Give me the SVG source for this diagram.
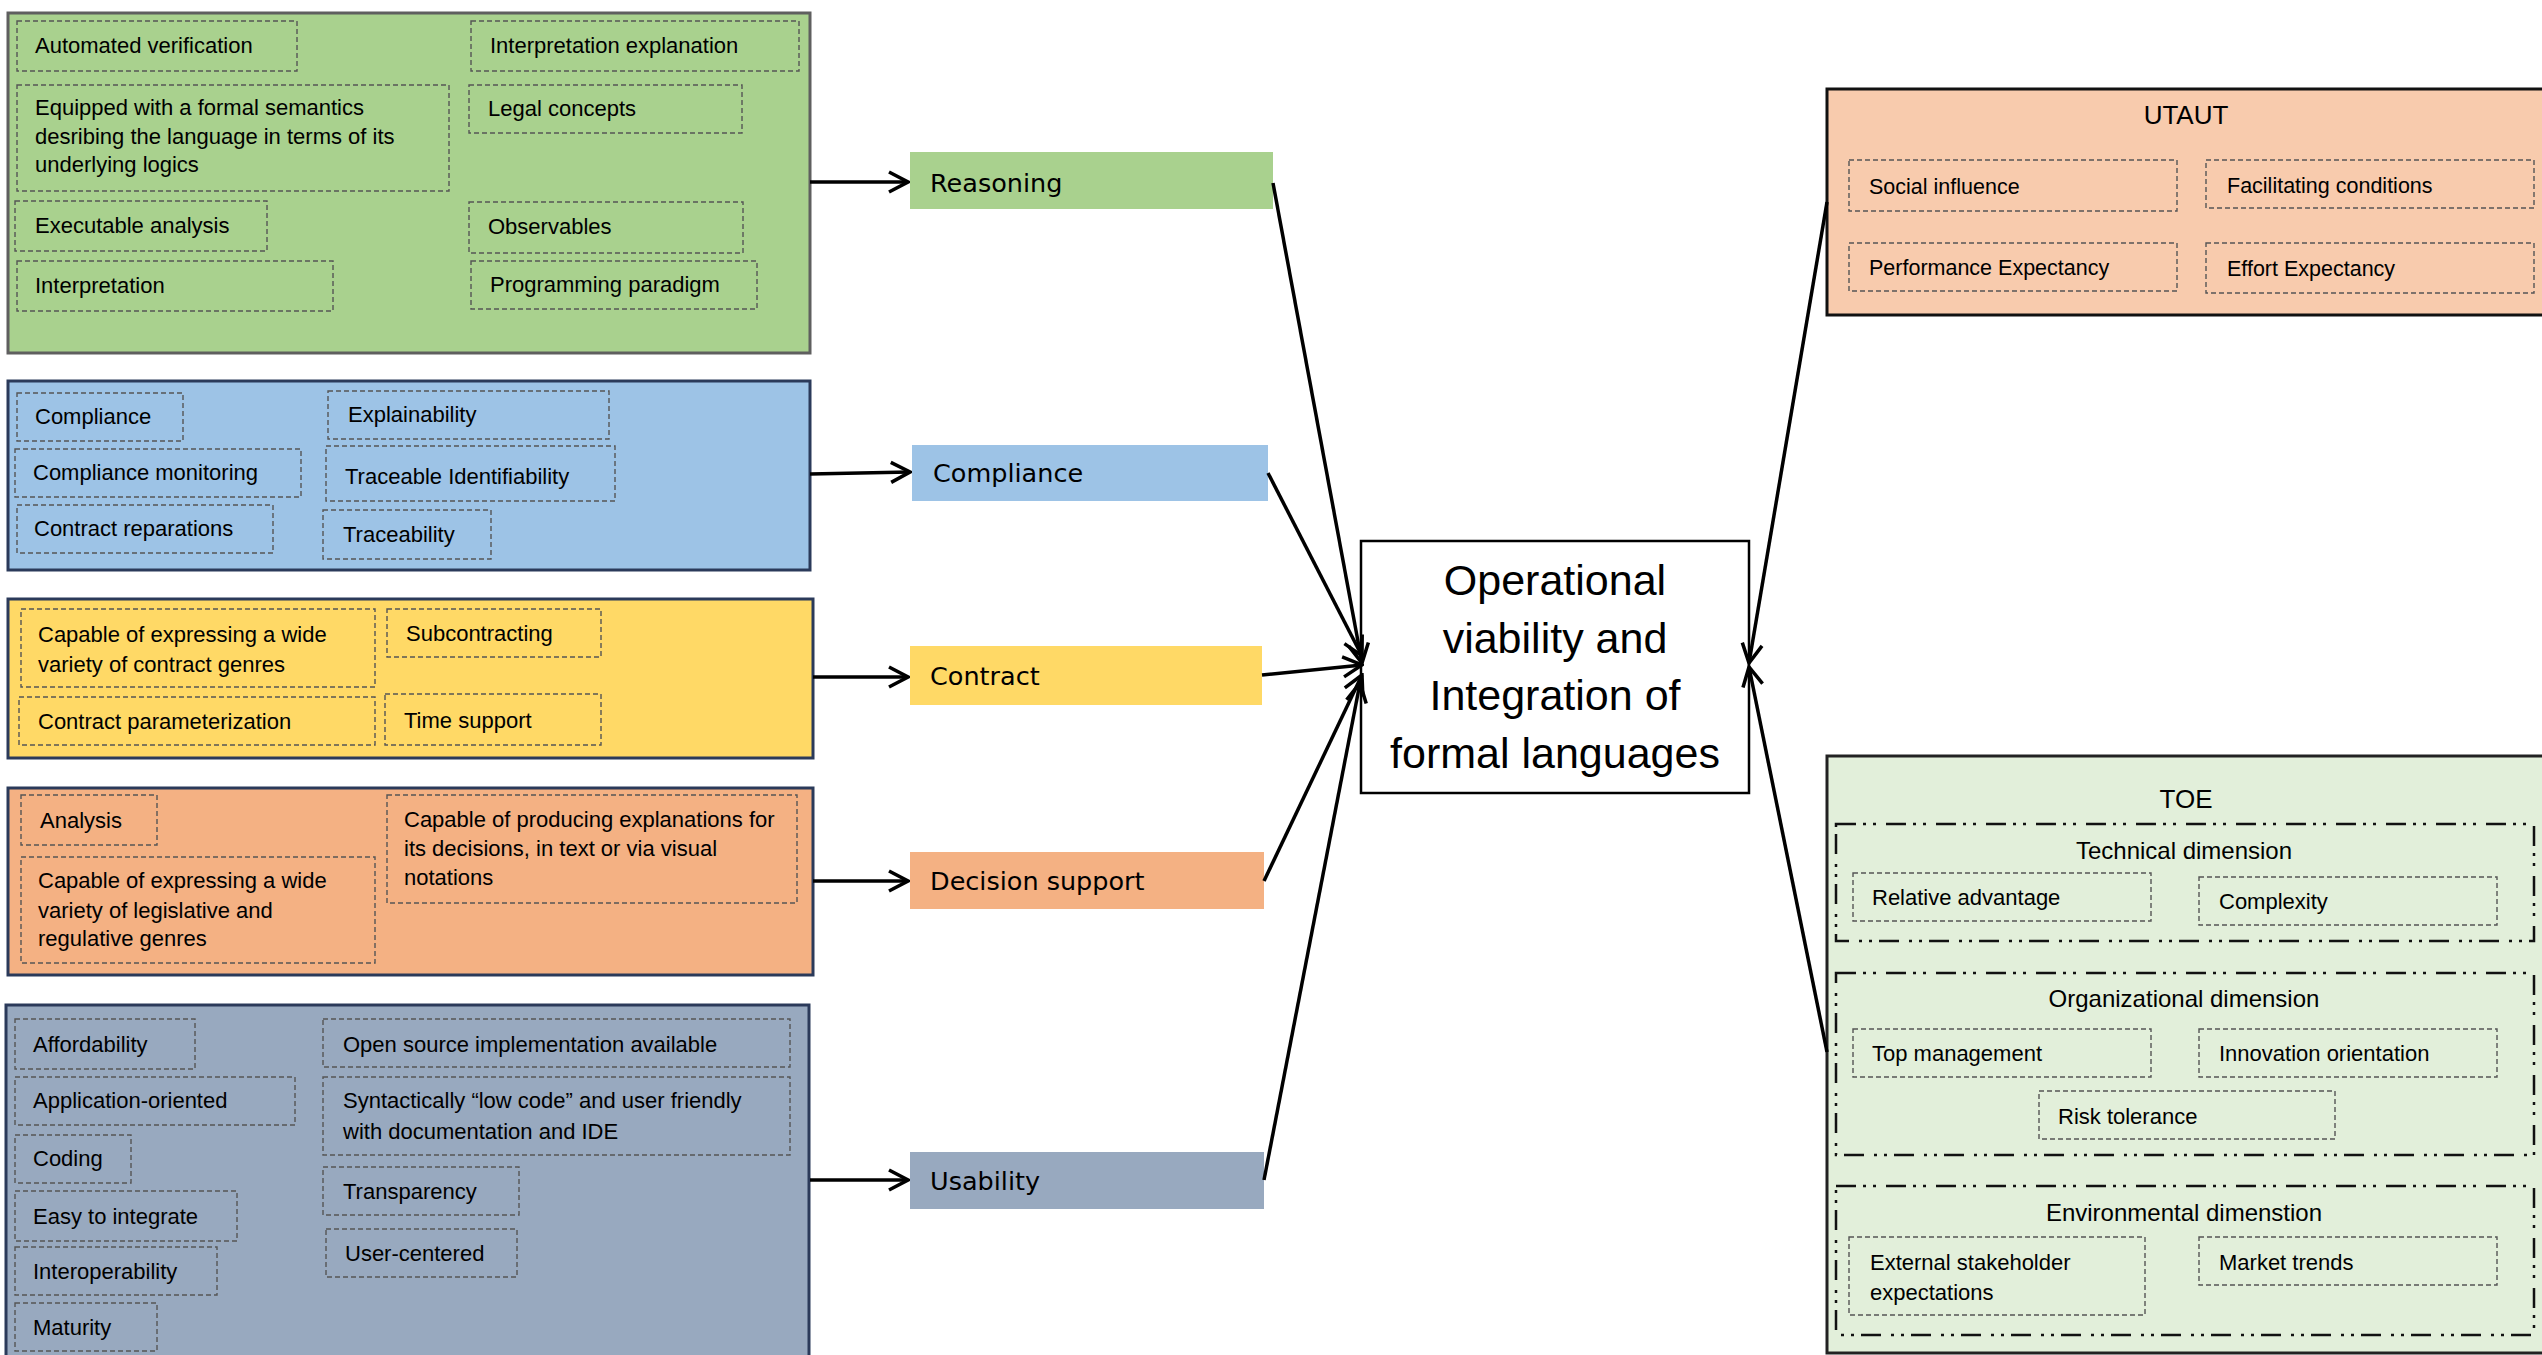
<svg xmlns="http://www.w3.org/2000/svg" width="2542" height="1355" viewBox="0 0 2542 1355">
<defs>
<style>
.pg{fill:#A9D18E;stroke:#5F5F5F;stroke-width:3}
.pb{fill:#9DC3E6;stroke:#2B3A5A;stroke-width:3}
.py{fill:#FFD966;stroke:#2B3A5A;stroke-width:3}
.po{fill:#F4B183;stroke:#2B3A5A;stroke-width:3}
.ps{fill:#98A9BF;stroke:#2B3A5A;stroke-width:3}
.pu{fill:#F8CBAD;stroke:#111;stroke-width:3}
.pt{fill:#E2EFDA;stroke:#222;stroke-width:3}
.item{fill:none;stroke:#555;stroke-width:1.4;stroke-dasharray:5 3}
.dim{fill:none;stroke:#111;stroke-width:2.5;stroke-dasharray:20 7 3 7 3 10}
.t{font-family:"Liberation Sans",Arial,sans-serif;font-size:22px;fill:#000}
.tr{font-family:"Liberation Sans",Arial,sans-serif;font-size:21.5px;fill:#000}
.ttl{font-family:"Liberation Sans",Arial,sans-serif;font-size:26px;fill:#000;text-anchor:middle}
.dt{font-family:"Liberation Sans",Arial,sans-serif;font-size:24px;fill:#000;text-anchor:middle}
.lab{font-family:"DejaVu Sans",Verdana,sans-serif;font-size:25.5px;fill:#000}
.ctr{font-family:"Liberation Sans",Arial,sans-serif;font-size:43px;fill:#000;text-anchor:middle}
.conn{stroke:#000;stroke-width:3.5;fill:none;marker-end:url(#arr)}
</style>
<marker id="arr" viewBox="0 0 24 24" refX="22" refY="12" markerWidth="24" markerHeight="24" markerUnits="userSpaceOnUse" orient="auto">
<path d="M3,2 L22,12 L3,22" fill="none" stroke="#000" stroke-width="3.5"/>
</marker>
</defs>

<g id="reasoning-panel">
<rect class="pg" x="8" y="13" width="802" height="340"/>
<rect class="item" x="17" y="21" width="280" height="50"/><text class="t" x="35" y="53">Automated verification</text>
<rect class="item" x="471" y="21" width="328" height="50"/><text class="t" x="490" y="53">Interpretation explanation</text>
<rect class="item" x="17" y="85" width="432" height="106"/><text class="t" x="35" y="115">Equipped with a formal semantics<tspan x="35" dy="29">desribing the language in terms of its</tspan><tspan x="35" dy="28">underlying logics</tspan></text>
<rect class="item" x="469" y="85" width="273" height="48"/><text class="t" x="488" y="116">Legal concepts</text>
<rect class="item" x="15" y="201" width="252" height="50"/><text class="t" x="35" y="233">Executable analysis</text>
<rect class="item" x="469" y="202" width="274" height="51"/><text class="t" x="488" y="234">Observables</text>
<rect class="item" x="17" y="261" width="316" height="50"/><text class="t" x="35" y="293">Interpretation</text>
<rect class="item" x="471" y="261" width="286" height="48"/><text class="t" x="490" y="292">Programming paradigm</text>
</g>

<g id="compliance-panel">
<rect class="pb" x="8" y="381" width="802" height="189"/>
<rect class="item" x="17" y="393" width="166" height="48"/><text class="t" x="35" y="424">Compliance</text>
<rect class="item" x="328" y="391" width="281" height="48"/><text class="t" x="348" y="422">Explainability</text>
<rect class="item" x="15" y="449" width="286" height="48"/><text class="t" x="33" y="480">Compliance monitoring</text>
<rect class="item" x="326" y="446" width="289" height="55"/><text class="t" x="345" y="484">Traceable Identifiability</text>
<rect class="item" x="17" y="505" width="256" height="48"/><text class="t" x="34" y="536">Contract reparations</text>
<rect class="item" x="323" y="510" width="168" height="49"/><text class="t" x="343" y="542">Traceability</text>
</g>

<g id="contract-panel">
<rect class="py" x="8" y="599" width="805" height="159"/>
<rect class="item" x="21" y="609" width="354" height="78"/><text class="t" x="38" y="642">Capable of expressing a wide<tspan x="38" dy="30">variety of contract genres</tspan></text>
<rect class="item" x="387" y="609" width="214" height="48"/><text class="t" x="406" y="641">Subcontracting</text>
<rect class="item" x="19" y="697" width="356" height="48"/><text class="t" x="38" y="729">Contract parameterization</text>
<rect class="item" x="385" y="694" width="216" height="51"/><text class="t" x="404" y="728">Time support</text>
</g>

<g id="decision-panel">
<rect class="po" x="8" y="788" width="805" height="187"/>
<rect class="item" x="21" y="795" width="136" height="50"/><text class="t" x="40" y="828">Analysis</text>
<rect class="item" x="21" y="857" width="354" height="106"/><text class="t" x="38" y="888">Capable of expressing a wide<tspan x="38" dy="30">variety of legislative and</tspan><tspan x="38" dy="28">regulative genres</tspan></text>
<rect class="item" x="387" y="795" width="410" height="108"/><text class="t" x="404" y="827">Capable of producing explanations for<tspan x="404" dy="29">its decisions, in text or via visual</tspan><tspan x="404" dy="29">notations</tspan></text>
</g>

<g id="usability-panel">
<rect class="ps" x="6" y="1005" width="803" height="380"/>
<rect class="item" x="15" y="1019" width="180" height="50"/><text class="t" x="33" y="1052">Affordability</text>
<rect class="item" x="15" y="1077" width="280" height="48"/><text class="t" x="33" y="1108">Application-oriented</text>
<rect class="item" x="15" y="1135" width="116" height="48"/><text class="t" x="33" y="1166">Coding</text>
<rect class="item" x="15" y="1191" width="222" height="50"/><text class="t" x="33" y="1224">Easy to integrate</text>
<rect class="item" x="15" y="1247" width="202" height="48"/><text class="t" x="33" y="1279">Interoperability</text>
<rect class="item" x="15" y="1303" width="142" height="48"/><text class="t" x="33" y="1335">Maturity</text>
<rect class="item" x="323" y="1019" width="467" height="48"/><text class="t" x="343" y="1052">Open source implementation available</text>
<rect class="item" x="323" y="1077" width="467" height="78"/><text class="t" x="343" y="1108">Syntactically “low code” and user friendly<tspan x="343" dy="31">with documentation and IDE</tspan></text>
<rect class="item" x="323" y="1167" width="196" height="48"/><text class="t" x="343" y="1199">Transparency</text>
<rect class="item" x="326" y="1229" width="191" height="48"/><text class="t" x="345" y="1261">User-centered</text>
</g>

<g id="reasoning"><rect x="910" y="152" width="363" height="57" fill="#A9D18E"/><text class="lab" x="930" y="192">Reasoning</text></g>
<g id="compliance"><rect x="912" y="445" width="356" height="56" fill="#9DC3E6"/><text class="lab" x="933" y="482">Compliance</text></g>
<g id="contract"><rect x="910" y="646" width="352" height="59" fill="#FFD966"/><text class="lab" x="930" y="685">Contract</text></g>
<g id="decision-support"><rect x="910" y="852" width="354" height="57" fill="#F4B183"/><text class="lab" x="930" y="890">Decision support</text></g>
<g id="usability"><rect x="910" y="1152" width="354" height="57" fill="#98A9BF"/><text class="lab" x="930" y="1190">Usability</text></g>

<g id="center">
<rect x="1361" y="541" width="388" height="252" fill="#fff" stroke="#000" stroke-width="2.5"/>
<text class="ctr" x="1555" y="595">Operational<tspan x="1555" dy="57.5">viability and</tspan><tspan x="1555" dy="57.5">Integration of</tspan><tspan x="1555" dy="57.5">formal languages</tspan></text>
</g>

<g id="utaut">
<rect class="pu" x="1827" y="89" width="730" height="226"/>
<text class="ttl" x="2186" y="124">UTAUT</text>
<rect class="item" x="1849" y="160" width="328" height="51"/><text class="tr" x="1869" y="194">Social influence</text>
<rect class="item" x="2206" y="160" width="328" height="48"/><text class="tr" x="2227" y="193">Facilitating conditions</text>
<rect class="item" x="1849" y="243" width="328" height="48"/><text class="tr" x="1869" y="275">Performance Expectancy</text>
<rect class="item" x="2206" y="243" width="328" height="50"/><text class="tr" x="2227" y="276">Effort Expectancy</text>
</g>

<g id="toe">
<rect class="pt" x="1827" y="756" width="730" height="597"/>
<text class="ttl" x="2186" y="808">TOE</text>
<g id="technical-dimension">
<rect class="dim" x="1836" y="824" width="698" height="117"/>
<text class="dt" x="2184" y="859">Technical dimension</text>
<rect class="item" x="1853" y="873" width="298" height="48"/><text class="t" x="1872" y="905">Relative advantage</text>
<rect class="item" x="2199" y="877" width="298" height="48"/><text class="t" x="2219" y="909">Complexity</text>
</g>
<g id="organizational-dimension">
<rect class="dim" x="1836" y="973" width="698" height="182"/>
<text class="dt" x="2184" y="1007">Organizational dimension</text>
<rect class="item" x="1853" y="1029" width="298" height="48"/><text class="t" x="1872" y="1061">Top management</text>
<rect class="item" x="2199" y="1029" width="298" height="48"/><text class="t" x="2219" y="1061">Innovation orientation</text>
<rect class="item" x="2039" y="1091" width="296" height="48"/><text class="t" x="2058" y="1124">Risk tolerance</text>
</g>
<g id="environmental-dimension">
<rect class="dim" x="1836" y="1186" width="698" height="149"/>
<text class="dt" x="2184" y="1221">Environmental dimenstion</text>
<rect class="item" x="1849" y="1237" width="296" height="78"/><text class="t" x="1870" y="1270">External stakeholder<tspan x="1870" dy="30">expectations</tspan></text>
<rect class="item" x="2199" y="1237" width="298" height="48"/><text class="t" x="2219" y="1270">Market trends</text>
</g>
</g>

<g id="connectors">
<line class="conn" x1="810" y1="182" x2="908" y2="182"/>
<line class="conn" x1="810" y1="474" x2="910" y2="472"/>
<line class="conn" x1="813" y1="677" x2="908" y2="677"/>
<line class="conn" x1="813" y1="881" x2="908" y2="881"/>
<line class="conn" x1="810" y1="1180" x2="908" y2="1180"/>
<line class="conn" x1="1273" y1="183" x2="1362" y2="663"/>
<line class="conn" x1="1268" y1="473" x2="1362" y2="656"/>
<line class="conn" x1="1262" y1="675" x2="1362" y2="665"/>
<line class="conn" x1="1264" y1="881" x2="1362" y2="675"/>
<line class="conn" x1="1264" y1="1180" x2="1360" y2="683"/>
<line class="conn" x1="1827" y1="202" x2="1749" y2="663"/>
<line class="conn" x1="1827" y1="1052" x2="1749" y2="667"/>
</g>
</svg>
